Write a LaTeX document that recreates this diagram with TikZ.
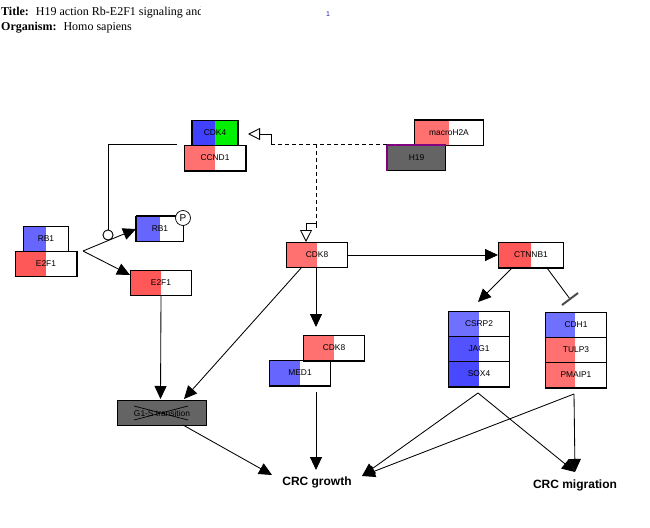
\documentclass[tikz,border=0pt]{standalone}
\usepackage{fontspec}
\setmainfont{Liberation Serif}
\newfontfamily\arialf{Liberation Sans}
\usetikzlibrary{arrows.meta,calc}
\definecolor{cblue}{RGB}{102,102,255}
\definecolor{cblueB}{RGB}{112,112,255}
\definecolor{cblueC}{RGB}{82,82,255}
\definecolor{cblueD}{RGB}{72,72,255}
\definecolor{cred}{RGB}{255,112,112}
\definecolor{credB}{RGB}{255,88,88}
\definecolor{cgreen}{RGB}{0,240,0}
\definecolor{cgray}{RGB}{100,100,100}
\definecolor{cpurple}{RGB}{128,0,128}
\definecolor{cnavy}{RGB}{30,30,170}
\tikzset{
  x=1pt,y=-1pt,
  genebox/.style={draw=black,line width=1pt,fill=white,anchor=north west,inner sep=0pt,
    minimum width=#1,minimum height=25pt,font=\arialf\fontsize{8.4}{8.4}\selectfont,text=black},
  edge/.style={draw=black,line width=0.85pt},
  act/.style={edge,-{Triangle[length=13pt,width=12pt]}},
  openact/.style={draw=black,line width=0.85pt,dashed,dash pattern=on 4pt off 3pt},
  opentip/.style={draw=black,line width=0.85pt,-{Triangle[open,length=12pt,width=12pt]}},
  goal/.style={font=\arialf\bfseries\fontsize{12}{12}\selectfont,inner sep=1pt,text=black},
  heavy/.style={draw=black,line width=1.8pt},
}
% half-filled gene box: name, x, y, width, left colour, right colour, left-width, text
\newcommand{\genebox}[8]{%
  \node[genebox=#4 pt,fill=#6,path picture={\fill[#5] (path picture bounding box.north west) rectangle ++(#7pt,-30pt);}] (#1) at (#2,#3) {#8};}
\begin{document}
\begin{tikzpicture}
\useasboundingbox[fill=white] (0,0) rectangle (650,527);
% header
\begin{scope}
\clip (0,0) rectangle (200,36);
\node[anchor=base west,inner sep=0pt,font=\fontsize{12}{12}\selectfont] (title) at (1,15.5) {\textbf{Title:}\hspace{7pt}H19 action Rb-E2F1 signaling and};
\end{scope}
\node[anchor=base west,inner sep=0pt,font=\fontsize{12}{12}\selectfont] (org) at (1,30.5) {\textbf{Organism:}\hspace{7pt}Homo sapiens};
\node[inner sep=0pt,font=\arialf\fontsize{7}{7}\selectfont,text=cnavy] (pg) at (328,14) {1};
% gene boxes
\genebox{cdka}{192}{120}{45}{blue!75!white}{cgreen}{22}{CDK4}
\genebox{ccnd}{184}{145}{61}{cred}{white}{30}{CCND1}
\genebox{mh}{414}{120}{69}{cred}{white}{34}{macroH2A}
\genebox{hnine}{387}{145}{58}{cgray}{cgray}{30}{H19}
\genebox{cdke}{286}{242}{61}{cred}{white}{30}{CDK8}
\genebox{rba}{23}{226}{45}{cblue}{white}{22}{RB1}
\genebox{efa}{15}{251}{61}{credB}{white}{30}{E2F1}
\genebox{rbb}{136}{216}{47}{cblue}{white}{23}{RB1}
\genebox{efb}{130}{270}{61}{credB}{white}{30}{E2F1}
\genebox{ctn}{498}{242}{65}{credB}{white}{32}{CTNNB1}
\genebox{csr}{448}{311}{61}{cblueB}{white}{30}{CSRP2}
\genebox{jag}{448}{336}{61}{cblueC}{white}{30}{JAG1}
\genebox{sox}{448}{361}{61}{cblueD}{white}{30}{SOX4}
\genebox{cdh}{545}{312}{61}{cblueB}{white}{29}{CDH1}
\genebox{tul}{545}{337}{61}{cred}{white}{29}{TULP3}
\genebox{pma}{545}{362}{61}{cred}{white}{29}{PMAIP1}
\genebox{cdkl}{303}{335}{61}{cred}{white}{30}{CDK8}
\genebox{med}{269}{360}{61}{cblue}{white}{30}{MED1}
\genebox{gone}{117}{400}{89}{cgray}{cgray}{30}{G1-S transition}
% heavy edges
\draw[heavy] (cdka.north west) -- (cdka.south west);
\draw[heavy] (cdka.north east) -- (cdka.south east);
\draw[heavy] (ccnd.south west) -- (ccnd.south east) -- (ccnd.north east);
\draw[heavy] (mh.north west) -- (mh.north east);
\draw[heavy] (rbb.north west) -- (rbb.south west);
\draw[heavy] (rbb.north west) -- (rbb.north east);
\draw[heavy] (efa.north east) -- (efa.south east);
\draw[heavy] (sox.south west) -- (sox.south east);
\draw[heavy] (pma.south west) -- (pma.south east);
\draw[heavy] (ctn.south west) -- (ctn.south east);
\draw[heavy] (med.south west) -- (med.south east);
\draw[heavy] (cdkl.south west) -- (cdkl.south east);
\draw[draw=cpurple,line width=1.2pt] (hnine.south west) -- (hnine.north west) -- (hnine.north east);
% phosphate
\node[circle,draw=black,line width=0.7pt,fill=white,minimum size=15pt,inner sep=0pt,font=\arialf\fontsize{10}{10}\selectfont] (pho) at (183,218) {P};
% crossed G1-S
\coordinate (xa) at (134,406);
\coordinate (xb) at (188,420);
\coordinate (xc) at (134,420);
\coordinate (xd) at (188,406);
\draw[line width=0.7pt] (xa) -- (xb) (xc) -- (xd);
% goals
\node[goal] (crcg) at (317,482) {CRC growth};
\node[goal] (crcm) at (575,485) {CRC migration};
% connector points
\coordinate (hleft) at (387,144);
\coordinate (hturn) at (271,144);
\coordinate (hup) at (271,134);
\coordinate (hcdk) at (248,134);
\coordinate (hmid) at (316,144);
\coordinate (vbot) at (316,223);
\coordinate (vend) at (316,228);
\coordinate (vleft) at (306,223);
\coordinate (cdktip) at (306,242);
\coordinate (ccl) at (177,144);
\coordinate (cct) at (108,144);
\node[circle,draw=black,line width=0.8pt,fill=white,minimum size=10pt,inner sep=0pt] (cat) at (108,235) {};
\coordinate (branch) at (83,251);
\coordinate (rbbtip) at (136,229);
\coordinate (efbtip) at (130,275);
\coordinate (gtipa) at (160.5,399);
\coordinate (gtipb) at (184,399);
\coordinate (cdkll) at (302,267);
\coordinate (medout) at (316,392);
\coordinate (gout) at (183,425);
\coordinate (ggrow) at (272,475);
\coordinate (mgrow) at (316,470);
\coordinate (ctnl) at (512,268);
\coordinate (csrtip) at (478,302);
\coordinate (ctnr) at (547,268);
\coordinate (bar) at (570,299);
\coordinate (bara) at (562,305);
\coordinate (barb) at (578,293);
\coordinate (soxout) at (478,393);
\coordinate (pmaout) at (574,394);
\coordinate (cgtip) at (362,476);
\coordinate (cmtip) at (575,472);
% dashed
\draw[openact] (hleft) -- (hturn);
\draw[edge] (hturn) -- (hup) -- (260,134);
\draw[opentip] (260,134) -- (hcdk);
\draw[openact] (hmid) -- (vbot);
\draw[edge] (vend) -- (vbot) -- (vleft) -- (306,231);
\draw[opentip] (306,230) -- (cdktip);
% solid
\draw[edge] (ccl) -- (cct) -- (cat);
\draw[act] (branch) -- (rbbtip);
\draw[act] (branch) -- (efbtip);
\node[circle,draw=black,line width=0.8pt,fill=white,minimum size=10pt,inner sep=0pt] at (cat) {};
\draw[act] (efb.south) -- (gtipa);
\draw[act] (cdkll) -- (gtipb);
\draw[act] (cdke.south -| 316,0) -- (316,327);
\draw[act] (cdke.east) -- (ctn.west);
\draw[act] (ctnl) -- (csrtip);
\draw[edge] (ctnr) -- (bar);
\draw[draw=black!70,line width=2pt] (bara) -- (barb);
\draw[act] (medout) -- (mgrow);
\draw[act] (gout) -- (ggrow);
\draw[act] (soxout) -- (cgtip);
\draw[act] (soxout) -- (cmtip);
\draw[act] (pmaout) -- (cgtip);
\draw[act] (pmaout) -- (cmtip);
\end{tikzpicture}
\end{document}
